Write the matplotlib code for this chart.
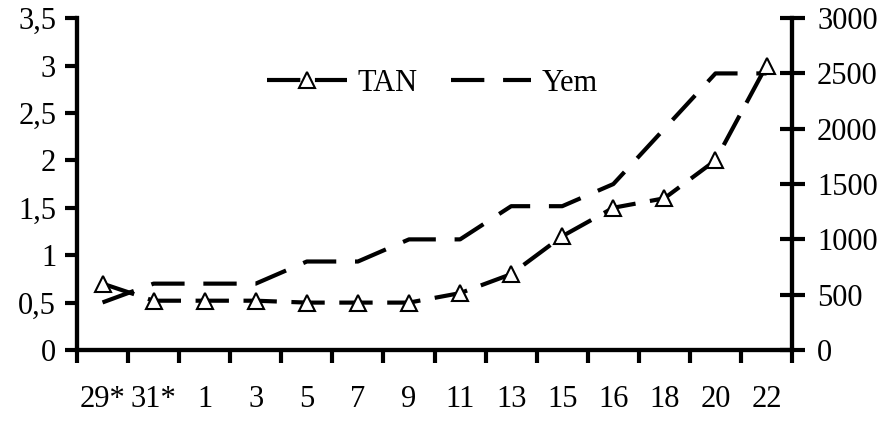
import numpy as np
import matplotlib
matplotlib.use("Agg")
import matplotlib.pyplot as plt

plt.rcParams['font.family'] = ['Liberation Serif', 'DejaVu Serif']

days = ['29*', '31*', '1', '3', '5', '7', '9', '11', '13', '15', '16', '18', '20', '22']
tan = [0.7, 0.52, 0.52, 0.52, 0.5, 0.5, 0.5, 0.6, 0.8, 1.2, 1.5, 1.6, 2.0, 3.0]
yem = [430, 600, 600, 600, 800, 800, 1000, 1000, 1300, 1300, 1500, 2000, 2500, 2500]

left_ticks = [0, 0.5, 1, 1.5, 2, 2.5, 3, 3.5]
left_labels = ['0', '0,5', '1', '1,5', '2', '2,5', '3', '3,5']
right_ticks = [0, 500, 1000, 1500, 2000, 2500, 3000]

fig = plt.figure(figsize=(8.87, 4.21), dpi=100)
ax = fig.add_axes([0.0868, 0.1686, 0.8062, 0.7884])
ax2 = ax.twinx()

x = np.arange(len(days))
lw = 3
ax.plot(x, tan, color='black', lw=lw, dashes=(8, 3.5), marker='^', ms=12,
        mfc='white', mec='black', mew=1.5, label='TAN', zorder=3)
ax2.plot(x, yem, color='black', lw=lw, dashes=(8, 4.5), label='Yem')

ax.set_zorder(ax2.get_zorder() + 1)
ax.patch.set_visible(False)

ax.set_xlim(-0.5, len(days) - 0.5)
ax.set_ylim(0, 3.5)
ax2.set_ylim(0, 3000)

for a in (ax, ax2):
    a.spines['top'].set_visible(False)
    for s in ('left', 'right', 'bottom'):
        a.spines[s].set_linewidth(3)

fs = 22
ax.set_xticks(x)
ax.set_xticklabels(days)
ax.set_xticks(np.arange(-0.5, len(days)), minor=True)
ax.tick_params(axis='x', which='major', length=0, pad=25, labelsize=fs)
ax.tick_params(axis='x', which='minor', length=9, width=3, direction='out')

ax.set_yticks(left_ticks)
ax.set_yticklabels(left_labels)
ax.tick_params(axis='y', length=9, width=3, direction='out', pad=6, labelsize=fs)

ax2.set_yticks(right_ticks)
ax2.set_yticklabels([str(v) for v in right_ticks])
ax2.tick_params(axis='y', length=18, width=3, direction='inout', pad=9, labelsize=fs)

h1, l1 = ax.get_legend_handles_labels()
h2, l2 = ax2.get_legend_handles_labels()
ax.legend(h1 + h2, l1 + l2, loc='center', bbox_to_anchor=(0.497, 0.804),
          ncol=2, frameon=False, fontsize=fs, handlelength=2.6,
          handletextpad=0.35, columnspacing=1.1)

fig.savefig('out.png', dpi=100)
